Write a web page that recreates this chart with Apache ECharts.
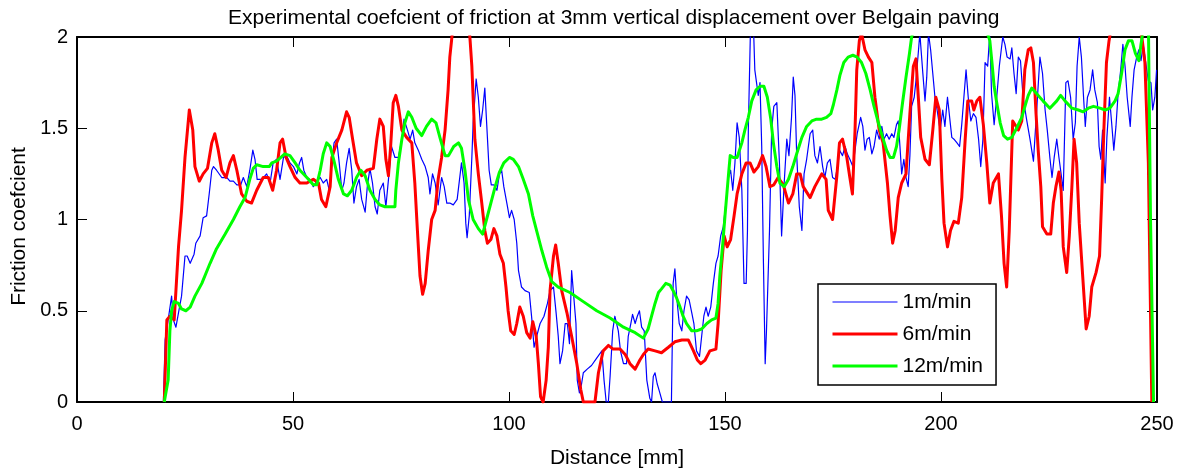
<!DOCTYPE html>
<html>
<head>
<meta charset="utf-8">
<title>Friction coefficient over Belgain paving</title>
<script src="https://cdn.jsdelivr.net/npm/echarts@6/dist/echarts.min.js"></script>
<style>
  html, body { margin: 0; padding: 0; background: #fff; }
  #chart { width: 1182px; height: 468px; }
</style>
</head>
<body>
<div id="chart"></div>
<script>
// Distance [mm] and friction coefficient samples for each sliding speed
const seriesNames = ['1m/min', '6m/min', '12m/min'];
const xTicks = [0, 50, 100, 150, 200, 250];
const yTicks = [0, 0.5, 1, 1.5, 2];

const dist1 = [20.0,20.4,21.1,21.9,22.3,22.9,23.5,24.2,25.0,25.5,26.2,27.1,27.5,28.5,29.2,30.0,30.6,31.2,31.6,32.3,33.5,34.7,35.4,36.2,37.0,37.9,38.5,39.3,40.0,40.7,41.2,41.7,42.8,43.9,44.7,45.4,46.2,47.0,47.8,48.5,49.3,50.1,50.9,51.5,52.0,52.5,53.2,53.9,54.7,55.5,56.3,57.0,57.8,58.4,59.0,59.5,60.1,60.7,61.3,61.8,62.4,63.0,63.6,64.1,64.7,65.3,65.9,66.7,67.2,67.8,68.4,69.0,69.5,70.1,70.9,71.5,72.1,72.8,73.6,74.4,75.2,75.7,76.5,77.1,77.7,78.2,79.0,79.8,80.6,81.3,81.7,82.3,82.9,83.6,84.4,85.0,85.6,86.3,87.1,88.0,88.7,89.0,89.6,90.0,90.3,90.8,91.4,91.7,92.4,92.9,93.4,93.9,94.4,95.0,95.4,95.9,96.5,97.2,97.8,98.3,98.8,99.5,100.1,100.6,101.2,101.8,102.2,102.9,103.7,104.7,105.3,105.8,106.4,107.2,108.1,108.9,109.5,110.3,110.9,111.4,111.8,112.4,113.0,113.5,114.0,114.5,114.9,115.5,115.8,116.3,116.8,117.2,118.1,119.1,120.3,121.5,122.0,122.5,123.0,123.4,124.0,124.5,125.3,125.8,126.5,127.2,127.6,128.2,128.6,129.2,129.7,130.2,130.7,131.3,131.9,132.6,133.0,133.4,133.8,134.3,134.8,135.5,137.6,138.0,138.4,138.8,139.4,140.0,140.5,141.1,141.7,142.3,142.8,143.4,144.1,144.6,145.1,145.6,146.1,146.7,147.3,147.9,148.4,149.0,149.6,150.2,150.8,151.3,151.8,152.3,152.8,153.3,153.9,154.4,154.9,155.2,155.4,155.9,156.6,156.9,157.3,157.7,158.1,158.5,158.9,159.3,159.6,160.3,160.8,161.3,162.0,162.6,163.1,163.7,164.3,164.8,165.4,165.8,166.2,166.6,167.2,167.8,168.3,168.9,169.7,170.3,170.8,171.4,172.0,172.6,173.1,173.7,174.3,174.9,175.5,176.2,176.5,177.2,177.8,178.3,178.9,179.6,180.1,180.6,181.4,181.9,182.4,182.9,183.4,184.0,184.5,185.1,185.7,186.3,186.8,187.4,188.0,188.6,189.1,189.7,190.1,190.5,190.9,191.4,191.9,192.4,192.8,193.2,193.8,194.2,194.8,195.1,195.8,196.3,196.7,197.1,197.6,198.1,198.6,199.1,199.8,200.4,200.9,201.5,202.0,202.5,203.0,203.7,204.3,204.8,205.3,205.8,206.3,206.9,207.5,208.1,208.7,209.2,209.7,210.2,210.8,211.3,211.7,212.3,212.9,213.5,214.3,214.8,215.3,216.0,216.4,216.9,217.4,217.9,218.4,219.0,219.8,220.6,221.4,222.1,222.9,223.5,224.1,224.6,225.2,225.7,226.2,226.8,227.3,227.8,228.3,228.9,229.4,230.0,230.6,231.1,231.5,232.0,232.5,233.0,233.4,233.9,234.5,235.1,235.6,236.2,236.6,237.0,237.4,238.0,238.4,239.0,239.5,240.0,240.5,241.0,241.6,242.1,242.6,243.1,243.8,244.2,244.7,245.3,245.8,246.3,246.8,247.5,248.0,248.6,249.0,249.5,249.9];
const fric1 = [0,0.34,0.45,0.58,0.45,0.41,0.49,0.58,0.80,0.80,0.76,0.81,0.87,0.91,1.01,1.02,1.14,1.27,1.29,1.27,1.23,1.23,1.21,1.21,1.19,1.19,1.23,1.18,1.27,1.38,1.33,1.22,1.22,1.25,1.20,1.31,1.33,1.22,1.34,1.35,1.31,1.29,1.25,1.31,1.34,1.27,1.23,1.22,1.18,1.21,1.23,1.20,1.22,1.16,1.31,1.42,1.44,1.31,1.16,1.20,1.31,1.39,1.27,1.09,1.18,1.22,1.11,1.04,1.18,1.28,1.20,1.07,1.03,1.16,1.20,1.07,1.22,1.40,1.34,1.34,1.44,1.55,1.49,1.44,1.49,1.42,1.38,1.33,1.29,1.23,1.14,1.25,1.20,1.08,1.23,1.18,1.09,1.09,1.08,1.11,1.25,1.31,1.20,0.98,0.90,1.02,1.34,1.53,1.77,1.67,1.51,1.60,1.72,1.45,1.27,1.19,1.19,1.16,1.25,1.27,1.18,1.09,1.01,1.05,1.00,0.87,0.72,0.63,0.61,0.60,0.45,0.30,0.36,0.43,0.47,0.54,0.61,0.63,0.49,0.36,0.21,0.28,0.43,0.43,0.32,0.72,0.72,0.43,0.12,0.05,0.10,0.16,0.18,0.20,0.24,0.28,0.12,0,0,0.14,0.39,0.47,0.39,0.28,0.21,0.21,0.36,0.43,0.48,0.43,0.47,0.50,0.41,0.39,0.12,0.02,0,0.14,0.16,0.10,0.06,0,0,0.65,0.73,0.58,0.43,0.39,0.50,0.58,0.56,0.49,0.43,0.28,0.25,0.36,0.47,0.52,0.47,0.52,0.65,0.76,0.80,0.91,0.96,1.09,1.23,1.27,1.16,1.31,1.53,1.45,1.16,0.65,0.65,0.94,1.49,2.05,2.05,1.82,1.75,1.68,1.75,1.40,0.76,0.21,0.39,0.94,1.49,1.62,1.64,1.31,0.91,1.20,1.44,1.35,1.56,1.78,1.68,1.35,1.07,0.94,1.25,1.33,1.47,1.49,1.35,1.31,1.40,1.29,1.23,1.31,1.33,1.23,1.22,1.31,1.38,1.35,1.40,1.36,1.33,1.29,1.38,1.47,1.56,1.51,1.38,1.44,1.45,1.36,1.40,1.49,1.44,1.51,1.44,1.47,1.44,1.47,1.45,1.52,1.54,1.40,1.25,1.33,1.23,1.18,1.35,1.62,1.67,1.76,1.93,2.02,1.80,1.65,1.78,2.02,1.93,1.80,1.67,1.60,1.49,1.60,1.51,1.67,1.56,1.45,1.44,1.42,1.40,1.52,1.67,1.82,1.67,1.54,1.58,1.56,1.44,1.29,1.44,1.86,1.84,2.02,1.69,1.52,1.67,1.84,2.00,1.96,1.89,1.88,1.94,1.80,1.69,1.89,1.87,1.67,1.55,1.44,1.32,1.58,1.89,1.80,1.60,1.49,1.34,1.23,1.34,1.44,1.34,1.25,1.16,1.75,1.76,1.67,1.44,1.53,1.84,2.00,1.89,1.67,1.51,1.67,1.71,1.82,1.71,1.64,1.40,1.33,1.49,1.20,1.45,1.67,1.53,1.38,1.51,1.69,1.82,1.96,1.84,1.67,1.51,1.67,1.82,1.89,1.93,1.87,1.96,1.84,1.76,1.75,1.60,1.67,1.82];

const dist6 = [20.2,20.8,21.5,22.5,23.5,24.2,25.0,26.0,26.8,27.3,28.3,29.2,30.2,31.2,31.9,32.7,33.5,34.5,35.4,36.2,37.0,38.1,39.3,40.4,41.6,43.1,44.3,45.3,46.2,47.0,47.6,48.4,49.3,50.5,51.6,53.2,54.7,55.9,56.6,57.6,58.6,59.0,60.1,61.3,62.4,63.0,63.8,64.7,65.9,67.1,68.6,69.4,70.1,70.9,71.5,72.1,72.6,73.2,73.8,74.4,75.2,76.3,77.5,78.2,78.8,79.4,80.0,80.6,81.3,82.1,82.9,83.6,84.4,85.2,85.9,86.3,86.7,88.0,90.0,91.0,91.4,92.1,92.9,93.7,94.4,95.0,95.8,96.5,97.2,97.9,98.7,99.3,99.8,100.4,101.2,101.8,102.5,103.3,104.1,104.9,105.5,106.3,106.8,107.3,107.9,108.6,109.1,109.5,110.3,110.8,111.4,112.2,113.4,114.5,115.7,116.6,117.2,119.9,120.7,121.8,123.0,124.1,125.7,126.9,128.0,129.2,130.3,131.1,132.2,133.8,135.3,136.9,138.4,140.0,141.5,142.7,143.6,144.4,145.4,146.5,147.9,148.4,149.1,149.8,150.5,151.3,152.1,152.8,153.9,154.9,155.8,156.7,157.7,158.7,159.5,160.4,161.3,162.3,163.5,164.7,165.7,166.6,167.4,168.1,169.7,170.8,172.4,173.4,173.9,174.9,175.9,176.5,177.2,178.2,178.9,179.5,180.1,180.5,181.1,181.6,182.4,183.2,184.0,184.7,185.7,186.6,187.6,188.2,188.8,189.4,190.1,190.9,191.9,192.8,193.6,194.2,194.8,195.3,196.3,197.3,198.1,198.8,199.6,200.2,200.7,201.5,202.2,203.0,204.0,204.8,205.6,206.2,207.1,207.6,208.3,209.0,209.8,210.6,211.3,212.1,213.3,214.0,214.6,215.2,215.8,216.6,217.9,218.7,219.4,220.2,220.8,221.4,222.0,222.5,223.1,223.5,224.5,225.4,226.0,226.6,227.3,227.8,228.3,229.1,229.7,230.3,230.8,231.4,232.0,232.8,233.6,234.3,234.9,235.9,236.7,237.2,237.7,238.3,238.9,240.5,245.0,246.6,247.2,248.0,248.4,248.8];
const fric6 = [0,0.45,0.47,0.45,0.85,1.05,1.34,1.60,1.49,1.29,1.21,1.25,1.28,1.42,1.47,1.38,1.27,1.23,1.31,1.35,1.27,1.14,1.10,1.09,1.16,1.23,1.23,1.16,1.27,1.42,1.44,1.34,1.29,1.23,1.20,1.20,1.22,1.20,1.11,1.07,1.18,1.34,1.42,1.49,1.59,1.56,1.44,1.31,1.24,1.27,1.28,1.44,1.55,1.51,1.33,1.24,1.40,1.64,1.68,1.62,1.49,1.45,1.42,1.20,0.94,0.69,0.59,0.65,0.83,1.00,1.05,1.22,1.34,1.49,1.71,1.89,1.98,2.30,2.30,1.98,1.84,1.44,1.25,1.09,0.94,0.87,0.89,0.95,0.91,0.81,0.76,0.63,0.50,0.39,0.37,0.43,0.52,0.47,0.38,0.35,0.44,0.36,0.21,0.03,0,0.12,0.30,0.61,0.80,0.86,0.76,0.61,0.49,0.36,0.21,0.07,0,0,0.16,0.28,0.31,0.29,0.29,0.26,0.21,0.18,0.23,0.26,0.29,0.28,0.27,0.30,0.33,0.34,0.34,0.28,0.23,0.21,0.23,0.28,0.29,0.43,0.72,0.91,0.85,0.89,1.02,1.14,1.25,1.31,1.31,1.26,1.29,1.35,1.29,1.18,1.19,1.23,1.19,1.09,1.14,1.25,1.25,1.18,1.12,1.18,1.25,1.22,1.05,1.00,1.24,1.42,1.44,1.34,1.23,1.14,1.49,1.82,1.98,2.02,1.93,1.89,1.86,1.67,1.49,1.42,1.20,1.02,0.87,0.94,1.12,1.20,1.25,1.58,1.84,1.88,1.65,1.45,1.33,1.30,1.49,1.67,1.60,1.22,0.98,0.85,0.94,0.99,0.98,1.12,1.44,1.65,1.65,1.60,1.65,1.67,1.52,1.31,1.09,1.20,1.25,1.02,0.76,0.63,0.94,1.54,1.49,1.54,1.82,1.93,1.94,1.86,1.58,1.38,1.18,0.96,0.92,0.92,1.09,1.18,1.26,1.16,0.85,0.71,0.91,1.18,1.44,1.31,0.98,0.69,0.40,0.47,0.63,0.71,0.80,1.12,1.49,1.86,1.98,2.20,2.20,1.98,1.86,1.31,0.65,0];

const dist12 = [20.2,21.1,21.5,21.9,22.5,23.5,24.2,25.2,26.2,27.3,28.9,30.8,32.3,34.3,36.2,37.7,38.9,40.0,40.8,41.6,43.1,44.5,45.1,46.2,47.2,48.1,49.3,50.5,51.6,53.2,54.7,55.5,56.3,57.0,57.8,58.6,59.4,60.5,61.7,62.6,63.6,64.7,65.7,66.7,67.8,69.0,70.1,71.3,72.6,73.6,73.8,74.4,75.2,75.9,76.7,77.5,78.5,79.8,80.9,82.1,83.1,84.0,85.2,86.0,87.2,88.3,89.0,89.8,90.6,91.7,92.9,93.9,94.8,95.8,96.8,97.8,98.8,100.1,101.0,102.2,103.3,104.5,105.5,106.6,107.6,108.7,109.9,111.4,114.1,117.2,120.3,123.4,126.5,129.2,131.1,132.2,133.0,133.8,134.6,135.3,136.3,137.3,138.0,138.8,139.6,140.3,141.1,142.3,143.4,144.6,145.8,146.9,147.9,148.4,148.8,149.5,150.0,150.5,150.9,151.2,151.9,152.8,153.9,154.6,155.4,156.2,157.2,158.1,159.0,159.8,160.6,161.2,162.0,162.7,163.7,164.7,165.7,166.6,167.8,168.9,170.1,171.2,172.4,173.5,174.5,175.1,175.9,176.6,177.5,178.5,179.6,180.6,181.6,182.6,183.6,184.5,185.5,186.5,187.4,188.2,189.0,189.7,190.3,191.1,191.9,192.7,193.2,195.0,202.0,209.0,211.3,211.8,212.3,212.9,213.7,214.5,215.4,216.4,217.5,218.7,219.8,220.2,221.0,222.1,223.6,225.2,226.8,227.7,228.7,230.3,231.8,232.9,234.1,235.3,236.8,238.0,239.1,240.3,241.0,241.8,242.6,243.4,244.2,245.0,245.8,246.3,247.2,248.0,248.5,249.2];
const fric12 = [0,0.12,0.39,0.50,0.55,0.54,0.51,0.50,0.52,0.58,0.65,0.76,0.84,0.92,1.00,1.07,1.12,1.22,1.28,1.30,1.29,1.29,1.31,1.32,1.34,1.36,1.35,1.31,1.27,1.23,1.19,1.19,1.27,1.36,1.42,1.40,1.33,1.22,1.14,1.13,1.16,1.23,1.27,1.24,1.16,1.11,1.08,1.07,1.07,1.07,1.16,1.31,1.44,1.53,1.59,1.56,1.50,1.46,1.51,1.55,1.53,1.45,1.35,1.35,1.40,1.42,1.39,1.27,1.11,1.00,0.95,0.92,1.00,1.09,1.18,1.26,1.31,1.34,1.33,1.29,1.22,1.14,1.02,0.92,0.83,0.74,0.66,0.63,0.60,0.55,0.50,0.46,0.41,0.38,0.35,0.40,0.47,0.54,0.60,0.62,0.65,0.64,0.61,0.57,0.52,0.47,0.43,0.39,0.39,0.40,0.43,0.45,0.46,0.54,0.69,0.87,1.02,1.16,1.27,1.35,1.34,1.34,1.42,1.49,1.56,1.65,1.71,1.73,1.73,1.67,1.55,1.42,1.29,1.20,1.18,1.22,1.29,1.36,1.45,1.51,1.54,1.55,1.55,1.56,1.58,1.63,1.71,1.79,1.86,1.89,1.90,1.89,1.86,1.80,1.71,1.62,1.53,1.45,1.38,1.34,1.34,1.40,1.49,1.64,1.78,1.91,2.00,2.15,2.20,2.15,1.98,1.86,1.73,1.64,1.53,1.46,1.44,1.45,1.50,1.56,1.65,1.68,1.72,1.69,1.65,1.61,1.65,1.68,1.65,1.61,1.60,1.59,1.61,1.62,1.61,1.60,1.61,1.65,1.69,1.80,1.93,1.98,1.98,1.91,1.87,1.96,2.10,2.10,1.00,0];

const zip = (xs, ys) => xs.map((x, i) => [x, ys[i]]);
const lineColors = ['#0000ff', '#ff0000', '#00ff00'];
const lineWidths = [1.2, 3, 3];
const curves = [zip(dist1, fric1), zip(dist6, fric6), zip(dist12, fric12)];

const FONT = 'Liberation Sans, Arial, Helvetica, sans-serif';
const chart = echarts.init(document.getElementById('chart'), null, { renderer: 'canvas' });

const boxAxisLine = { show: true, onZero: false, lineStyle: { color: '#000', width: 2 } };
const innerTick = { show: true, inside: true, length: 10, lineStyle: { color: '#000', width: 1 } };

chart.setOption({
  backgroundColor: '#fff',
  animation: false,
  title: {
    text: 'Experimental coefcient of friction at 3mm vertical displacement over Belgain paving',
    left: 228,
    top: 8,
    padding: 0,
    textStyle: { fontFamily: FONT, fontSize: 21, fontWeight: 'normal', color: '#000' }
  },
  grid: { left: 77, right: 25, top: 37, bottom: 66, containLabel: false, outerBoundsMode: 'none' },
  legend: {
    orient: 'vertical',
    left: 818,
    top: 284,
    padding: [7, 13, 8, 13],
    itemWidth: 65,
    itemHeight: 22,
    itemGap: 10,
    backgroundColor: '#fff',
    borderColor: '#000',
    borderWidth: 1.5,
    borderRadius: 0,
    textStyle: { fontFamily: FONT, fontSize: 21, color: '#000', lineHeight: 22 },
    data: seriesNames.map((name, i) => ({
      name,
      itemStyle: { opacity: 0 },
      lineStyle: { width: lineWidths[i], color: lineColors[i], opacity: 1 }
    }))
  },
  xAxis: [
    {
      type: 'value', min: xTicks[0], max: xTicks[xTicks.length - 1], interval: 50,
      position: 'bottom',
      name: 'Distance [mm]', nameLocation: 'middle', nameGap: 46,
      nameTextStyle: { fontFamily: FONT, fontSize: 21, color: '#000' },
      axisLine: boxAxisLine, axisTick: innerTick,
      axisLabel: { fontFamily: FONT, fontSize: 20, color: '#000', margin: 12 },
      splitLine: { show: false }
    },
    {
      type: 'value', min: xTicks[0], max: xTicks[xTicks.length - 1], interval: 50,
      position: 'top',
      axisLine: boxAxisLine, axisTick: innerTick,
      axisLabel: { show: false }, splitLine: { show: false }
    }
  ],
  yAxis: [
    {
      type: 'value', min: yTicks[0], max: yTicks[yTicks.length - 1], interval: 0.5,
      position: 'left',
      name: 'Friction coefcient', nameLocation: 'middle', nameGap: 41, nameRotate: 90,
      nameTextStyle: { fontFamily: FONT, fontSize: 21, color: '#000', padding: [0, 14, 0, 0] },
      axisLine: boxAxisLine, axisTick: innerTick,
      axisLabel: { fontFamily: FONT, fontSize: 20, color: '#000', margin: 9 },
      splitLine: { show: false }
    },
    {
      type: 'value', min: yTicks[0], max: yTicks[yTicks.length - 1], interval: 0.5,
      position: 'right',
      axisLine: boxAxisLine, axisTick: innerTick,
      axisLabel: { show: false }, splitLine: { show: false }
    }
  ],
  series: curves.map((data, i) => ({
    name: seriesNames[i],
    type: 'line',
    data,
    xAxisIndex: 0,
    yAxisIndex: 0,
    showSymbol: false,
    symbol: 'none',
    clip: true,
    smooth: false,
    lineStyle: { color: lineColors[i], width: lineWidths[i], join: 'round' },
    itemStyle: { color: lineColors[i] },
    emphasis: { disabled: true }
  }))
});
</script>
</body>
</html>
